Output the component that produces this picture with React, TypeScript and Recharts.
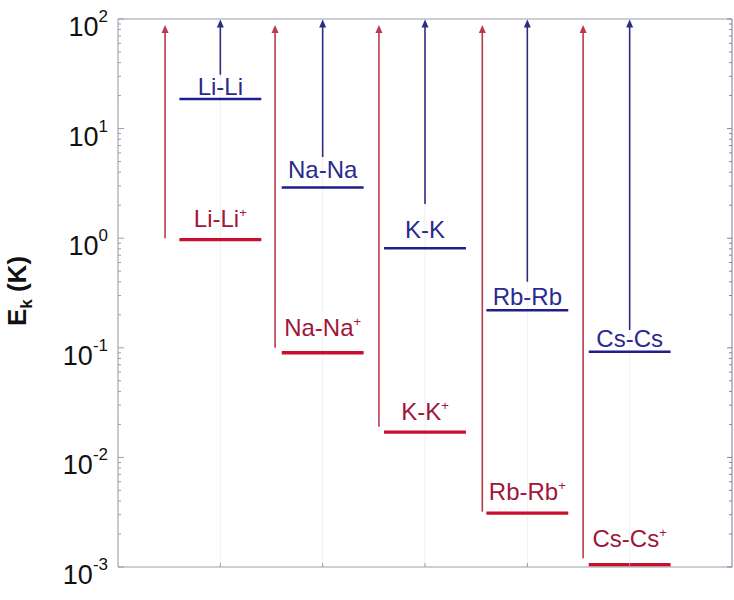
import React from "react";
import { ComposedChart, XAxis, YAxis, CartesianGrid, ReferenceLine } from "recharts";

// dimer species, one column each
const species = ["Li", "Na", "K", "Rb", "Cs"];
const speciesX = [1, 2, 3, 4, 5];
// neutral dimer level (blue) and ion-atom level (red), in K
const neutralLevel = [18.6, 2.9, 0.81, 0.22, 0.092];
const ionLevel = [0.97, 0.09, 0.017, 0.0031, 0.00105];
// arrows
const neutralArrowFrom = [31, 5.5, 2.05, 0.4, 0.145];
const neutralArrowTo = [99, 99, 99, 99, 99];
const ionArrowX = [0.46, 1.535, 2.55, 3.56, 4.545];
const ionArrowFrom = [1.0, 0.1, 0.019, 0.0032, 0.0012];
const ionArrowTo = [88, 88, 88, 88, 88];
// axis ticks
const majorTicks = [1e-3, 1e-2, 1e-1, 1, 10, 100];
const xTicks = [1, 2, 3, 4, 5];

const minorTicks: number[] = [];
majorTicks.slice(0, -1).forEach((m) => {
  for (let k = 2; k <= 9; k++) minorTicks.push(m * k);
});
const allTicks = [...majorTicks, ...minorTicks].sort((a, b) => a - b);

const FONT = "'Liberation Sans', Arial, Helvetica, sans-serif";
const AXIS = "#9d9cab";
const FRAME = "#8e7f99";
const RED_LINE = "#c8102e";
const RED_TEXT = "#a0163a";
const RED_ARROW = "#b83a4a";
const BLUE_LINE = "#1e1e8c";
const BLUE_TEXT = "#2a2a8e";
const BLUE_ARROW = "#2c2c82";
const HALF = 0.4;
const blueGap = [4, 10, 10, 5, 5];
const redGap = [13, 17, 12, 13, 18];

const isMajor = (v: number) => {
  const e = Math.log10(v);
  return Math.abs(e - Math.round(e)) < 1e-6;
};

const LeftTick = (props: any) => {
  const { x, y, payload } = props;
  const ax = x + 10;
  const major = isMajor(payload.value);
  return (
    <g>
      <line x1={ax} x2={ax + (major ? 6 : 3)} y1={y} y2={y} stroke={AXIS} />
      {major && (
        <text x={ax - 10} y={y + 17} textAnchor="end" fill="#111" fontSize={27} fontFamily={FONT}>
          10
          <tspan dy={-14} fontSize={17}>
            {Math.round(Math.log10(payload.value))}
          </tspan>
        </text>
      )}
    </g>
  );
};

const RightTick = (props: any) => {
  const { x, y, payload } = props;
  const major = isMajor(payload.value);
  return <line x1={x} x2={x - (major ? 5 : 3)} y1={y} y2={y} stroke={FRAME} />;
};

const BottomTick = (props: any) => {
  const { x, y } = props;
  return <line x1={x} x2={x} y1={y} y2={y - 4} stroke={AXIS} />;
};

const YTitle = (props: any) => {
  const vb = props.viewBox || { x: 0, y: 19, width: 118, height: 548 };
  const cx = vb.x + 26;
  const cy = vb.y + vb.height / 2 - 2;
  return (
    <text
      x={cx}
      y={cy}
      transform={`rotate(-90 ${cx} ${cy})`}
      textAnchor="middle"
      fontSize={26}
      fontWeight="bold"
      fontFamily={FONT}
      fill="#111"
    >
      E<tspan dy={6} fontSize={17}>k</tspan>
      <tspan dy={-6}> (K)</tspan>
    </text>
  );
};

const Arrow = (props: any) => {
  const { x1, y1, x2, y2, color } = props;
  return (
    <g>
      <line x1={x1} y1={y1} x2={x2} y2={y2 + 6} stroke={color} strokeWidth={1.6} />
      <path d={`M${x2},${y2} L${x2 - 3.5},${y2 + 8} L${x2 + 3.5},${y2 + 8} Z`} fill={color} />
    </g>
  );
};

const Level = (props: any) => {
  const { x1, y1, x2, y2, color, textColor, width, name, ion, gap } = props;
  return (
    <g>
      <line x1={x1} y1={y1} x2={x2} y2={y2} stroke={color} strokeWidth={width} />
      <text
        x={(x1 + x2) / 2}
        y={y1 - gap}
        textAnchor="middle"
        fill={textColor}
        fontSize={24}
        fontFamily={FONT}
      >
        {name}
        {ion && (
          <tspan dy={-10} fontSize={13}>
            +
          </tspan>
        )}
      </text>
    </g>
  );
};

export default function App() {
  return (
    <div style={{ position: "absolute", left: 0, top: 0, background: "#fff" }}>
      <ComposedChart width={734} height={600} margin={{ top: 19, right: 0, left: 0, bottom: 0 }}>
        <CartesianGrid horizontal={false} stroke="#efeff5" />
        <XAxis
          type="number"
          dataKey="x"
          domain={[0, 6]}
          ticks={xTicks}
          interval={0}
          height={33}
          tickSize={0}
          tickMargin={0}
          tick={<BottomTick />}
          tickLine={false}
          stroke={AXIS}
          allowDataOverflow
        />
        <YAxis
          scale="log"
          domain={[0.001, 100]}
          ticks={allTicks}
          interval={0}
          width={118}
          tickSize={0}
          tickMargin={10}
          tick={<LeftTick />}
          tickLine={false}
          stroke={AXIS}
          allowDataOverflow
          label={<YTitle />}
        />
        <YAxis
          yAxisId="r"
          orientation="right"
          scale="log"
          domain={[0.001, 100]}
          ticks={allTicks}
          interval={0}
          width={2}
          tickSize={0}
          tickMargin={0}
          tick={<RightTick />}
          tickLine={false}
          stroke={FRAME}
          allowDataOverflow
        />
        <ReferenceLine y={100} stroke={AXIS} ifOverflow="visible" />

        {species.map((s, i) => (
          <ReferenceLine
            key={`na-${s}`}
            ifOverflow="visible"
            segment={[
              { x: speciesX[i], y: neutralArrowFrom[i] },
              { x: speciesX[i], y: neutralArrowTo[i] },
            ]}
            shape={(p: any) => <Arrow {...p} color={BLUE_ARROW} />}
          />
        ))}
        {species.map((s, i) => (
          <ReferenceLine
            key={`ia-${s}`}
            ifOverflow="visible"
            segment={[
              { x: ionArrowX[i], y: ionArrowFrom[i] },
              { x: ionArrowX[i], y: ionArrowTo[i] },
            ]}
            shape={(p: any) => <Arrow {...p} color={RED_ARROW} />}
          />
        ))}
        {species.map((s, i) => (
          <ReferenceLine
            key={`nl-${s}`}
            ifOverflow="visible"
            segment={[
              { x: speciesX[i] - HALF, y: neutralLevel[i] },
              { x: speciesX[i] + HALF, y: neutralLevel[i] },
            ]}
            shape={(p: any) => (
              <Level
                {...p}
                color={BLUE_LINE}
                textColor={BLUE_TEXT}
                width={2.6}
                name={`${s}-${s}`}
                ion={false}
                gap={blueGap[i]}
              />
            )}
          />
        ))}
        {species.map((s, i) => (
          <ReferenceLine
            key={`il-${s}`}
            ifOverflow="visible"
            segment={[
              { x: speciesX[i] - HALF, y: ionLevel[i] },
              { x: speciesX[i] + HALF, y: ionLevel[i] },
            ]}
            shape={(p: any) => (
              <Level
                {...p}
                color={RED_LINE}
                textColor={RED_TEXT}
                width={3.4}
                name={`${s}-${s}`}
                ion
                gap={redGap[i]}
              />
            )}
          />
        ))}
      </ComposedChart>
    </div>
  );
}
